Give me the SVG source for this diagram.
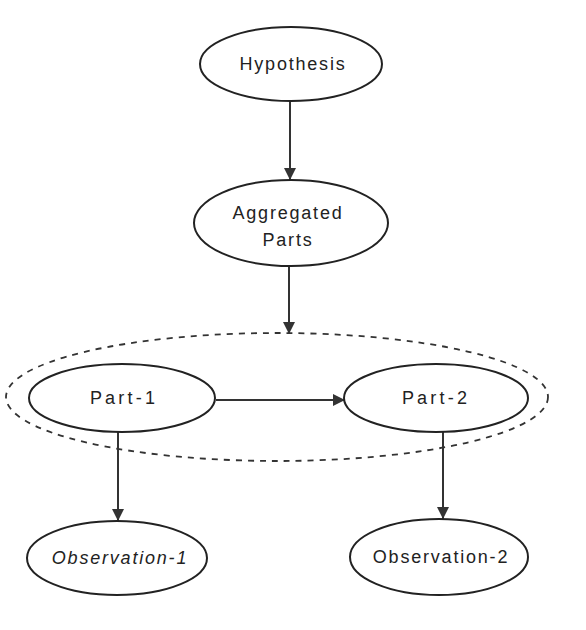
<svg xmlns="http://www.w3.org/2000/svg" width="586" height="630" viewBox="0 0 586 630">
<style>
.node{fill:#fff;stroke:#222;stroke-width:2}
.lbl{font-family:"Liberation Sans",Arial,sans-serif;font-size:18px;fill:#222;text-anchor:middle;letter-spacing:1.8px}
.wide{letter-spacing:3.2px}
.edge{stroke:#333;stroke-width:2;fill:none}
.group{fill:none;stroke:#333;stroke-width:1.8;stroke-dasharray:6,6}
</style>
<defs>
<marker id="arr" viewBox="0 0 10 10" refX="10" refY="5" markerWidth="13" markerHeight="12" orient="auto" markerUnits="userSpaceOnUse">
<path d="M0,0 L10,5 L0,10 z" fill="#333"/>
</marker>
</defs>
<rect width="586" height="630" fill="#fff"/>
<g id="connectors">
<line class="edge" x1="290" y1="101" x2="290" y2="180" marker-end="url(#arr)"/>
<line class="edge" x1="289" y1="267" x2="289" y2="334" marker-end="url(#arr)"/>
<line class="edge" x1="216" y1="400" x2="345" y2="400" marker-end="url(#arr)"/>
<line class="edge" x1="118" y1="432" x2="118" y2="521" marker-end="url(#arr)"/>
<line class="edge" x1="443" y1="432" x2="443" y2="519" marker-end="url(#arr)"/>
</g>
<g id="group-parts">
<ellipse class="group" cx="277" cy="397" rx="271" ry="64"/>
</g>
<g id="hypothesis">
<ellipse class="node" cx="291" cy="64" rx="91" ry="37"/>
<text class="lbl" x="293" y="70">Hypothesis</text>
</g>
<g id="aggregated-parts">
<ellipse class="node" cx="291" cy="223" rx="97" ry="43"/>
<text class="lbl" x="288" y="219">Aggregated</text>
<text class="lbl" x="288" y="246">Parts</text>
</g>
<g id="part-1">
<ellipse class="node" cx="122" cy="398" rx="93" ry="34"/>
<text class="lbl wide" x="124" y="404">Part-1</text>
</g>
<g id="part-2">
<ellipse class="node" cx="436" cy="398" rx="92" ry="34"/>
<text class="lbl wide" x="436" y="404">Part-2</text>
</g>
<g id="observation-1">
<ellipse class="node" cx="117" cy="558" rx="90" ry="37"/>
<text class="lbl" x="120" y="564" font-style="italic">Observation-1</text>
</g>
<g id="observation-2">
<ellipse class="node" cx="439" cy="557" rx="89" ry="38"/>
<text class="lbl" x="441" y="563">Observation-2</text>
</g>
</svg>
